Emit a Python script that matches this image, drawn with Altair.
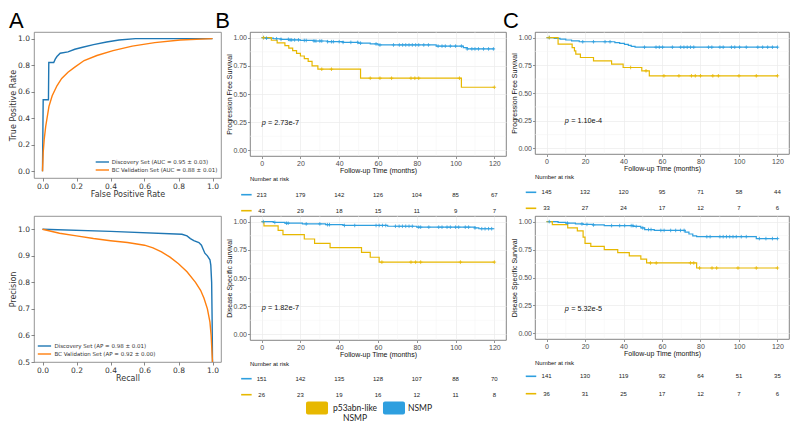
import altair as alt
import pandas as pd

# ================= Panel A: ROC curves =================
roc_disc_fpr = [0.0, 0.004, 0.035, 0.037, 0.066, 0.075, 0.085, 0.104, 0.15, 0.19, 0.236, 0.30, 0.377, 0.45, 0.547, 1.0]
roc_disc_tpr = [0.0, 0.54, 0.54, 0.82, 0.82, 0.845, 0.865, 0.89, 0.90, 0.92, 0.935, 0.955, 0.975, 0.99, 1.0, 1.0]
roc_val_fpr = [0.0, 0.004, 0.01, 0.019, 0.038, 0.057, 0.085, 0.113, 0.15, 0.19, 0.245, 0.32, 0.415, 0.528, 0.66, 0.81, 1.0]
roc_val_tpr = [0.0, 0.14, 0.24, 0.34, 0.49, 0.57, 0.645, 0.70, 0.747, 0.785, 0.835, 0.873, 0.91, 0.944, 0.97, 0.99, 1.0]
roc_labels = ["Discovery Set (AUC = 0.95 \u00b1 0.03)", "BC Validation Set (AUC = 0.88 \u00b1 0.01)"]

# ================= Panel A: precision-recall curves =================
pr_disc_rec = [0.0, 0.4, 0.82, 0.85, 0.87, 0.89, 0.92, 0.935, 0.945, 0.955, 0.97, 0.985, 0.99, 0.995, 0.998, 1.0]
pr_disc_prec = [1.0, 0.992, 0.981, 0.975, 0.965, 0.957, 0.95, 0.94, 0.925, 0.91, 0.90, 0.885, 0.865, 0.80, 0.65, 0.5]
pr_val_rec = [0.0, 0.1, 0.2, 0.3, 0.4, 0.5, 0.6, 0.65, 0.7, 0.75, 0.8, 0.85, 0.9, 0.93, 0.95, 0.97, 0.985, 0.992, 1.0]
pr_val_prec = [1.0, 0.985, 0.975, 0.965, 0.957, 0.95, 0.94, 0.93, 0.915, 0.895, 0.87, 0.84, 0.80, 0.77, 0.74, 0.70, 0.65, 0.60, 0.5]
pr_labels = ["Discovery Set (AP = 0.98 \u00b1 0.01)", "BC Validation Set (AP = 0.92 \u00b1 0.00)"]

a_ticks = [0.0, 0.2, 0.4, 0.6, 0.8, 1.0]
pr_y_ticks = [0.5, 0.6, 0.7, 0.8, 0.9, 1.0]

# ================= Panel B: discovery cohort KM =================
b_pfs_nsmp_t = [0, 2, 6, 10, 14, 20, 27, 34, 42, 50, 56, 60, 90, 104, 106]
b_pfs_nsmp_s = [1.0, 0.995, 0.99, 0.985, 0.98, 0.975, 0.97, 0.964, 0.958, 0.951, 0.944, 0.935, 0.925, 0.912, 0.90]
b_pfs_nsmp_c = [1, 2.5, 7.7, 10, 13.8, 14.7, 15.5, 17, 19, 22, 23, 27, 28, 30, 31, 34, 36, 37, 40, 42, 46, 49.5,
                51, 59, 61, 68, 71, 72.7, 74.3, 76, 77.7, 79.4, 81, 83.6, 86, 91, 93, 94.7, 97.3, 100, 103, 106,
                108.4, 110, 111.8, 114.4, 117, 119.5]
b_pfs_p53_t = [0, 5, 8, 12, 14, 16, 18, 20, 22, 24, 26, 29, 51, 103]
b_pfs_p53_s = [1.0, 0.977, 0.953, 0.93, 0.907, 0.884, 0.86, 0.837, 0.814, 0.79, 0.75, 0.72, 0.64, 0.56]
b_pfs_p53_c = [1, 31, 36, 56, 61, 67, 77, 79, 81, 102, 120]

b_dss_nsmp_t = [0, 6, 12, 21, 33, 42, 65, 80, 110, 112]
b_dss_nsmp_s = [1.0, 0.993, 0.986, 0.98, 0.973, 0.966, 0.959, 0.951, 0.944, 0.937]
b_dss_nsmp_c = [0.9, 6.8, 12.8, 13.7, 23, 30, 34, 35, 42.7, 48, 59, 60.6, 62.3, 64, 69, 70.9, 72.6, 74.3, 76,
                77.7, 81, 82, 86.2, 91.3, 93, 95.6, 97.3, 100, 101.6, 105, 106.7, 110, 113.5, 115.2, 117, 118.6]
b_dss_p53_t = [0, 1.2, 8.5, 11, 22, 27.3, 35.3, 51.5, 56, 60.6]
b_dss_p53_s = [1.0, 0.962, 0.923, 0.885, 0.846, 0.808, 0.769, 0.727, 0.684, 0.641]
b_dss_p53_c = [62, 77, 79.4, 82, 102.5, 120]

# ================= Panel C: validation cohort KM =================
c_pfs_nsmp_t = [0, 4, 7, 10, 13, 17, 35.5, 38, 40.5, 42.5, 44, 46]
c_pfs_nsmp_s = [1.0, 0.993, 0.985, 0.978, 0.97, 0.962, 0.955, 0.947, 0.938, 0.93, 0.921, 0.913]
c_pfs_nsmp_c = [1.4, 18.8, 24.4, 30.4, 33, 50.9, 56.9, 58.6, 60.3, 65.4, 69.7, 71.4, 73.1, 74.8, 76.5, 84.2,
                85.9, 90.1, 91.8, 96.1, 97.8, 100.3, 103.8, 109.8, 112.3, 114.9, 117.4, 120]
c_pfs_p53_t = [0, 6, 13.3, 14.5, 15.2, 17.6, 24.4, 33.8, 39.8, 49.5, 53.4]
c_pfs_p53_s = [1.0, 0.94, 0.91, 0.88, 0.85, 0.82, 0.79, 0.76, 0.73, 0.70, 0.655]
c_pfs_p53_c = [1.4, 43.7, 51.7, 61, 68.8, 75.3, 77.3, 80, 86.4, 89.3, 100, 109, 120]

c_dss_nsmp_t = [0, 6, 10, 15, 19, 24, 30, 45, 49, 51, 56, 72, 74, 76, 78, 109]
c_dss_nsmp_s = [1.0, 0.993, 0.986, 0.979, 0.975, 0.97, 0.964, 0.957, 0.943, 0.929, 0.921, 0.905, 0.889,
                0.873, 0.865, 0.848]
c_dss_nsmp_c = [1.4, 10.9, 18.4, 21, 24.4, 33.8, 38, 40.6, 44, 44.9, 46.6, 50, 53, 54.3, 59.4, 61.1, 64.5,
                67.1, 69.6, 71.5, 83.3, 85, 90.1, 91.8, 93.5, 95.2, 96.9, 98.6, 101.2, 103.8, 110.6, 114, 117.4, 120]
c_dss_p53_t = [0, 3, 11, 16, 19, 20, 23, 30, 37, 43, 49, 52, 78]
c_dss_p53_s = [1.0, 0.972, 0.944, 0.917, 0.861, 0.806, 0.778, 0.75, 0.722, 0.694, 0.664, 0.63, 0.585]
c_dss_p53_c = [54, 57, 74.8, 76.5, 79.5, 86, 88.4, 99.5, 109, 120]

# ================= Numbers at risk =================
risk_times = [0, 20, 40, 60, 80, 100, 120]
b_pfs_risk_nsmp = [213, 179, 142, 126, 104, 85, 67]
b_pfs_risk_p53 = [43, 29, 18, 15, 11, 9, 7]
b_dss_risk_nsmp = [151, 142, 135, 128, 107, 88, 70]
b_dss_risk_p53 = [26, 23, 19, 16, 12, 11, 8]
c_pfs_risk_nsmp = [145, 132, 120, 95, 71, 58, 44]
c_pfs_risk_p53 = [33, 27, 24, 17, 12, 7, 6]
c_dss_risk_nsmp = [141, 130, 119, 92, 64, 51, 35]
c_dss_risk_p53 = [36, 31, 25, 17, 12, 7, 6]

p_values = ["2.73e-7", "1.82e-7", "1.10e-4", "5.32e-5"]

km_x_ticks = [0, 20, 40, 60, 80, 100, 120]
km_x_minor = [10, 30, 50, 70, 90, 110]
km_y_ticks = [0.0, 0.25, 0.5, 0.75, 1.0]
km_y_minor = [0.125, 0.375, 0.625, 0.875]

G_NSMP = "NSMP"
G_P53 = "p53abn-like NSMP"
legend_groups = [G_P53, G_NSMP]
legend_texts = ["p53abn-like\nNSMP", "NSMP"]

# ================= style =================
KM_BLUE = "#2E9FDF"
KM_YELLOW = "#E7B800"
MPL_BLUE = "#1f77b4"
MPL_ORANGE = "#ff7f0e"
FONT = "Liberation Sans"
AFONT = "DejaVu Sans"
PLUS = "M-1,0H1M0,-1V1"

KM_X = alt.Scale(domain=[-6, 126], nice=False, zero=False)
KM_Y = alt.Scale(domain=[-0.05, 1.05], nice=False, zero=False)
KM_COLOR = alt.Scale(domain=[G_NSMP, G_P53], range=[KM_BLUE, KM_YELLOW])

KM_AXIS = dict(grid=True, gridColor="#EBEBEB", gridWidth=0.7, domain=False, tickSize=2.5, tickWidth=0.6,
               tickColor="#4D4D4D", labelFont=FONT, labelFontSize=7, labelColor="#4D4D4D", labelPadding=1,
               labelFlush=False, titleFont=FONT, titleFontSize=7, titleColor="#111111",
               titleFontWeight="normal")
A_AXIS = dict(grid=False, domain=False, tickSize=3, tickWidth=0.7, tickColor="#555555", labelFont=AFONT,
              labelFontSize=7.5, labelColor="#333333", labelPadding=1.5, labelFlush=False, titleFont=AFONT,
              titleFontSize=8, titleColor="#333333", titleFontWeight="normal", titlePadding=0)

# panel widths chosen so the whole figure fits the 782 px page width without being scaled
W_A, W_B, W_C = 187, 256, 254
COL_GAP = 29
ONE = pd.DataFrame({"a": [0]})
LETTER_Y = -21
LETTER_SIZE = 22


def step_at(times, surv, t):
    v = surv[0]
    for ti, si in zip(times, surv):
        if ti <= t:
            v = si
    return v


def label_text(label, x, y, size, font, color="#000000", align="left", baseline="middle", dx=0):
    return alt.Chart(pd.DataFrame({"lab": [label]})).mark_text(
        align=align, baseline=baseline, fontSize=size, font=font, color=color, dx=dx
    ).encode(x=alt.value(x), y=alt.value(y), text="lab:N")


def blank(w, h):
    return alt.Chart(ONE).mark_rule(opacity=0).encode(
        x=alt.value(0), y=alt.value(0), y2=alt.value(0.5)).properties(width=w, height=h)


def a_panel(curves, labels, ydom, yticks, xtitle, ytitle, leg_x1, leg_x2, leg_tx, leg_y, w, h, letter=None):
    x_sc = alt.Scale(domain=[-0.05, 1.05], nice=False, zero=False)
    y_sc = alt.Scale(domain=ydom, nice=False, zero=False)
    xax = alt.Axis(values=a_ticks, format=".1f", title=xtitle, **A_AXIS)
    yax = alt.Axis(values=yticks, format=".1f", title=ytitle, **A_AXIS)
    layers = []
    for (xs, ys), lab, col in zip(curves, labels, [MPL_BLUE, MPL_ORANGE]):
        df = pd.DataFrame({"x": xs, "y": ys, "o": list(range(len(xs)))})
        layers.append(alt.Chart(df).mark_line(color=col, strokeWidth=1.4).encode(
            x=alt.X("x:Q", scale=x_sc, axis=xax),
            y=alt.Y("y:Q", scale=y_sc, axis=yax),
            order="o:Q"))
    for k, (lab, col) in enumerate(zip(labels, [MPL_BLUE, MPL_ORANGE])):
        layers.append(alt.Chart(pd.DataFrame({"lab": [lab]})).mark_rule(color=col, strokeWidth=1.4).encode(
            x=alt.value(leg_x1), x2=alt.value(leg_x2), y=alt.value(leg_y[k])))
        layers.append(label_text(lab, leg_tx, leg_y[k], 5.5, AFONT, color="#333333"))
    if letter:
        layers.append(label_text(letter, -25, LETTER_Y, LETTER_SIZE, FONT, baseline="top"))
    return alt.layer(*layers).properties(width=w, height=h,
                                         view=alt.ViewBackground(stroke="#7a7a7a", strokeWidth=0.8))


def km_panel(nt, ns, nc, pt, ps, pc, ytitle, ptxt, px, py, w, h, letter=None, letter_x=0.0):
    rows = []
    for g, ts, ss in ((G_NSMP, nt, ns), (G_P53, pt, ps)):
        tt = list(ts) + [120]
        sv = list(ss) + [ss[-1]]
        for i, (t, s) in enumerate(zip(tt, sv)):
            rows.append({"t": t, "s": s, "g": g, "o": i})
    curve = pd.DataFrame(rows)
    crow = []
    for g, cs, ts, ss in ((G_NSMP, nc, nt, ns), (G_P53, pc, pt, ps)):
        for c in cs:
            crow.append({"t": c, "s": step_at(ts, ss, c), "g": g})
    cens = pd.DataFrame(crow)
    xax = alt.Axis(values=km_x_ticks, format="d", title="Follow-up Time (months)", titlePadding=0, **KM_AXIS)
    yax = alt.Axis(values=km_y_ticks, format=".2f", title=ytitle, titlePadding=0.5, **KM_AXIS)
    X = lambda f: alt.X(f, scale=KM_X, axis=xax)
    Y = lambda f: alt.Y(f, scale=KM_Y, axis=yax)
    minor_x = alt.Chart(pd.DataFrame({"t": km_x_minor})).mark_rule(color="#F3F3F3", strokeWidth=0.5).encode(
        x=X("t:Q"))
    minor_y = alt.Chart(pd.DataFrame({"s": km_y_minor})).mark_rule(color="#F3F3F3", strokeWidth=0.5).encode(
        y=Y("s:Q"))
    lines = alt.Chart(curve).mark_line(interpolate="step-after", strokeWidth=1.2).encode(
        x=X("t:Q"), y=Y("s:Q"),
        color=alt.Color("g:N", scale=KM_COLOR, legend=None),
        order="o:Q")
    marks = alt.Chart(cens).mark_point(shape=PLUS, size=13, strokeWidth=0.8, filled=False, opacity=1).encode(
        x=X("t:Q"), y=Y("s:Q"),
        color=alt.Color("g:N", scale=KM_COLOR, legend=None))
    pdf = pd.DataFrame({"t": [px], "s": [py], "p": ["p"], "rest": ["= " + ptxt]})
    p1 = alt.Chart(pdf).mark_text(align="left", baseline="middle", fontSize=7.3, font=FONT,
                                  fontStyle="italic", color="#111111").encode(
        x=X("t:Q"), y=Y("s:Q"), text="p:N")
    p2 = alt.Chart(pdf).mark_text(align="left", baseline="middle", fontSize=7.3, font=FONT,
                                  color="#111111", dx=6.3).encode(
        x=X("t:Q"), y=Y("s:Q"), text="rest:N")
    layers = [minor_x, minor_y, lines, marks, p1, p2]
    if letter:
        layers.append(label_text(letter, letter_x, LETTER_Y, LETTER_SIZE, FONT, baseline="top"))
    return alt.layer(*layers).properties(width=w, height=h,
                                         view=alt.ViewBackground(stroke="#666666", strokeWidth=0.8))


def risk_panel(n_nsmp, n_p53, ys, dash_x, w, h):
    df = pd.DataFrame({"t": risk_times + risk_times, "n": n_nsmp + n_p53,
                       "g": [G_NSMP] * len(risk_times) + [G_P53] * len(risk_times)})
    y_sc = alt.Scale(type="point", domain=[G_NSMP, G_P53], range=[ys[1], ys[2]], padding=0)
    header = label_text("Number at risk", 0, ys[0], 6, FONT, color="#111111")
    dash = alt.Chart(pd.DataFrame({"g": [G_NSMP, G_P53]})).mark_point(
        shape="M-1,0H1", size=110, strokeWidth=1.6, filled=False, opacity=1).encode(
        x=alt.value(dash_x), y=alt.Y("g:N", scale=y_sc, axis=None),
        color=alt.Color("g:N", scale=KM_COLOR, legend=None))
    nums = alt.Chart(df).mark_text(fontSize=6, font=FONT, color="#222222", baseline="middle").encode(
        x=alt.X("t:Q", scale=KM_X, axis=None), y=alt.Y("g:N", scale=y_sc, axis=None), text="n:Q")
    return alt.layer(header, dash, nums).properties(width=w, height=h)


def legend_panel(w, h, yc):
    df = pd.DataFrame({"g": legend_groups, "lab": legend_texts})
    band = alt.Scale(type="band", domain=legend_groups, range=[56, 155], paddingInner=0.714, paddingOuter=0)
    rects = alt.Chart(df).mark_rect(cornerRadius=2).encode(
        x=alt.X("g:N", scale=band, axis=None), y=alt.value(yc - 6.5), y2=alt.value(yc + 6.5),
        color=alt.Color("g:N", scale=KM_COLOR, legend=None))
    t1 = alt.Chart(df).transform_filter(alt.datum.g == G_P53).mark_text(
        align="center", baseline="middle", lineBreak="\n", lineHeight=9.5, fontSize=8.5, font="Lato",
        color="#222222", dx=38).encode(x=alt.X("g:N", scale=band, axis=None), y=alt.value(yc), text="lab:N")
    t2 = alt.Chart(df).transform_filter(alt.datum.g == G_NSMP).mark_text(
        align="center", baseline="middle", fontSize=8.5, font="Lato", color="#222222", dx=26).encode(
        x=alt.X("g:N", scale=band, axis=None), y=alt.value(yc), text="lab:N")
    return alt.layer(rects, t1, t2).properties(width=w, height=h)


a_top = a_panel([(roc_disc_fpr, roc_disc_tpr), (roc_val_fpr, roc_val_tpr)], roc_labels, [-0.05, 1.05],
                a_ticks, "False Positive Rate", "True Positive Rate", 61.7, 75, 77.7, [130, 138], W_A, 146,
                letter="A")
a_bot = a_panel([(pr_disc_rec, pr_disc_prec), (pr_val_rec, pr_val_prec)], pr_labels, [0.5, 1.05],
                pr_y_ticks, "Recall", "Precision", 3.8, 17.1, 20.4, [130, 138], W_A, 146)

b_top = km_panel(b_pfs_nsmp_t, b_pfs_nsmp_s, b_pfs_nsmp_c, b_pfs_p53_t, b_pfs_p53_s, b_pfs_p53_c,
                 "Progression Free Survival", p_values[0], 0, 0.243, W_B, 124, letter="B", letter_x=-34.7)
b_bot = km_panel(b_dss_nsmp_t, b_dss_nsmp_s, b_dss_nsmp_c, b_dss_p53_t, b_dss_p53_s, b_dss_p53_c,
                 "Disease Specific Survival", p_values[1], 0, 0.23, W_B, 124)
c_top = km_panel(c_pfs_nsmp_t, c_pfs_nsmp_s, c_pfs_nsmp_c, c_pfs_p53_t, c_pfs_p53_s, c_pfs_p53_c,
                 "Progression Free Survival", p_values[2], 9.5, 0.25, W_C, 122, letter="C", letter_x=-32)
c_bot = km_panel(c_dss_nsmp_t, c_dss_nsmp_s, c_dss_nsmp_c, c_dss_p53_t, c_dss_p53_s, c_dss_p53_c,
                 "Disease Specific Survival", p_values[3], 9.5, 0.22, W_C, 123)

# rows share their top edge: row 2 starts 146 px below row 1, row 4 starts 146 px below row 3
b_risk1 = risk_panel(b_pfs_risk_nsmp, b_pfs_risk_p53, [1, 16.7, 32.7], -3.6, W_B, 38)
c_risk1 = risk_panel(c_pfs_risk_nsmp, c_pfs_risk_p53, [-1, 14.3, 30.3], -4, W_C, 38)
b_risk2 = risk_panel(b_dss_risk_nsmp, b_dss_risk_p53, [2, 16.7, 32.7], -3.6, W_B, 40)
c_risk2 = risk_panel(c_dss_risk_nsmp, c_dss_risk_p53, [1, 14.3, 31.7], -4, W_C, 40)

legend = legend_panel(W_B, 12, 6)

items = [
    a_top, b_top, c_top,
    blank(W_A, 38), b_risk1, c_risk1,
    a_bot, b_bot, c_bot,
    blank(W_A, 1), b_risk2, c_risk2,
    blank(W_A, 1), legend, blank(W_C, 1),
]

chart = alt.concat(
    *items, columns=3, spacing={"row": 0, "column": COL_GAP}, align="each", bounds="flush"
).properties(
    padding={"top": 1, "left": 0, "right": 0, "bottom": 0}
).configure(font=FONT, background="white").configure_view(strokeWidth=0)

chart.save("out.html", embed_options={"renderer": "svg", "actions": False})
